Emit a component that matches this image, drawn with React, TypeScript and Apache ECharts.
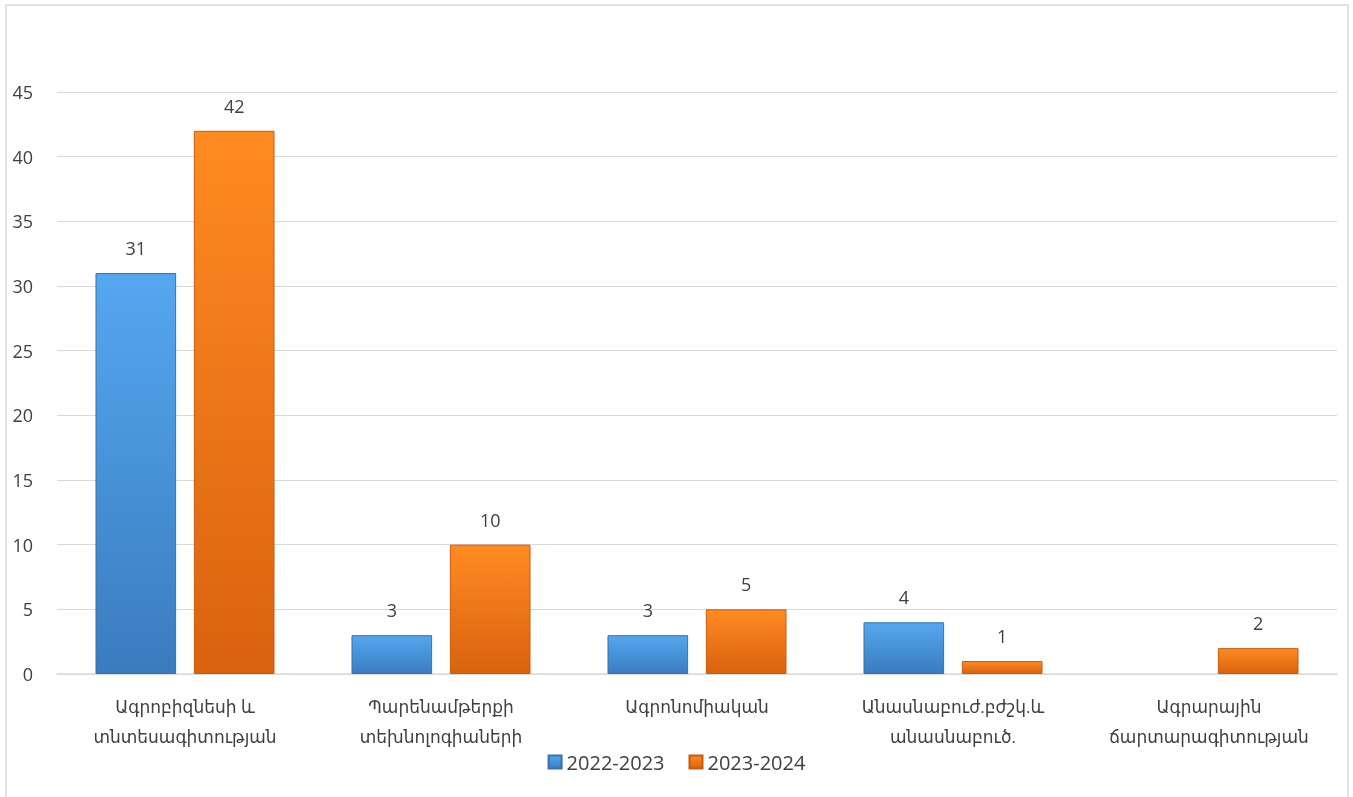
import React, { useEffect, useRef } from "react";
import * as echarts from "echarts";

const categories = [
  "Ագրոբիզնեսի և\nտնտեսագիտության",
  "Պարենամթերքի\nտեխնոլոգիաների",
  "Ագրոնոմիական",
  "Անասնաբուժ.բժշկ.և\nանասնաբուծ.",
  "Ագրարային\nճարտարագիտության",
];
const seriesNames = ["2022-2023", "2023-2024"];
const values2022: (number | null)[] = [31, 3, 3, 4, null];
const values2023: (number | null)[] = [42, 10, 5, 1, 2];
const yTicks = { min: 0, max: 45, interval: 5 };

const FONT = "'Open Sans', 'DejaVu Sans', sans-serif";
const TEXT = "#404040";

function grad(top: string, bottom: string) {
  return new echarts.graphic.LinearGradient(0, 0, 0, 1, [
    { offset: 0, color: top },
    { offset: 1, color: bottom },
  ]);
}

export default function App() {
  const ref = useRef<HTMLDivElement>(null);
  useEffect(() => {
    document.body.style.margin = "0";
    const chart = echarts.init(ref.current!, null, { renderer: "svg" });
    const labelCfg = {
      show: true,
      position: "top" as const,
      distance: 16,
      fontSize: 18,
      color: TEXT,
      fontFamily: FONT,
    };
    chart.setOption({
      animation: false,
      textStyle: { fontFamily: FONT },
      graphic: [
        {
          type: "rect",
          shape: { x: 6, y: 5, width: 1342, height: 820 },
          style: { fill: "none", stroke: "#d9d9d9", lineWidth: 1.5 },
          silent: true,
        },
      ],
      grid: { left: 57, right: 16, top: 92, bottom: 123, containLabel: false },
      legend: {
        data: seriesNames,
        top: 747,
        left: "center",
        icon: "rect",
        itemWidth: 13,
        itemHeight: 13,
        itemGap: 24,
        textStyle: { fontSize: 20, color: TEXT, fontFamily: FONT },
      },
      xAxis: {
        type: "category",
        data: categories,
        axisLine: { lineStyle: { color: "#d9d9d9", width: 1.5 } },
        axisTick: { show: false },
        axisLabel: {
          fontSize: 17,
          lineHeight: 30,
          color: TEXT,
          fontFamily: FONT,
          margin: 17,
          interval: 0,
        },
      },
      yAxis: {
        type: "value",
        min: yTicks.min,
        max: yTicks.max,
        interval: yTicks.interval,
        axisLine: { show: false },
        axisTick: { show: false },
        splitLine: { lineStyle: { color: "#d9d9d9", width: 1.2 } },
        axisLabel: { fontSize: 18, color: TEXT, fontFamily: FONT, margin: 24 },
      },
      series: [
        {
          name: seriesNames[0],
          type: "bar",
          data: values2022,
          barWidth: "31.5%",
          barGap: "22%",
          itemStyle: {
            color: grad("#55a7f0", "#3a7cbe"),
            borderColor: "#3672b0",
            borderWidth: 1,
          },
          label: labelCfg,
        },
        {
          name: seriesNames[1],
          type: "bar",
          data: values2023,
          barWidth: "31.5%",
          barGap: "22%",
          itemStyle: {
            color: grad("#ff8b22", "#d9620f"),
            borderColor: "#c85a10",
            borderWidth: 1,
          },
          label: labelCfg,
        },
      ],
    });
    return () => chart.dispose();
  }, []);
  return (
    <div
      ref={ref}
      style={{ position: "fixed", left: 0, top: 0, width: 1353, height: 797 }}
    />
  );
}
